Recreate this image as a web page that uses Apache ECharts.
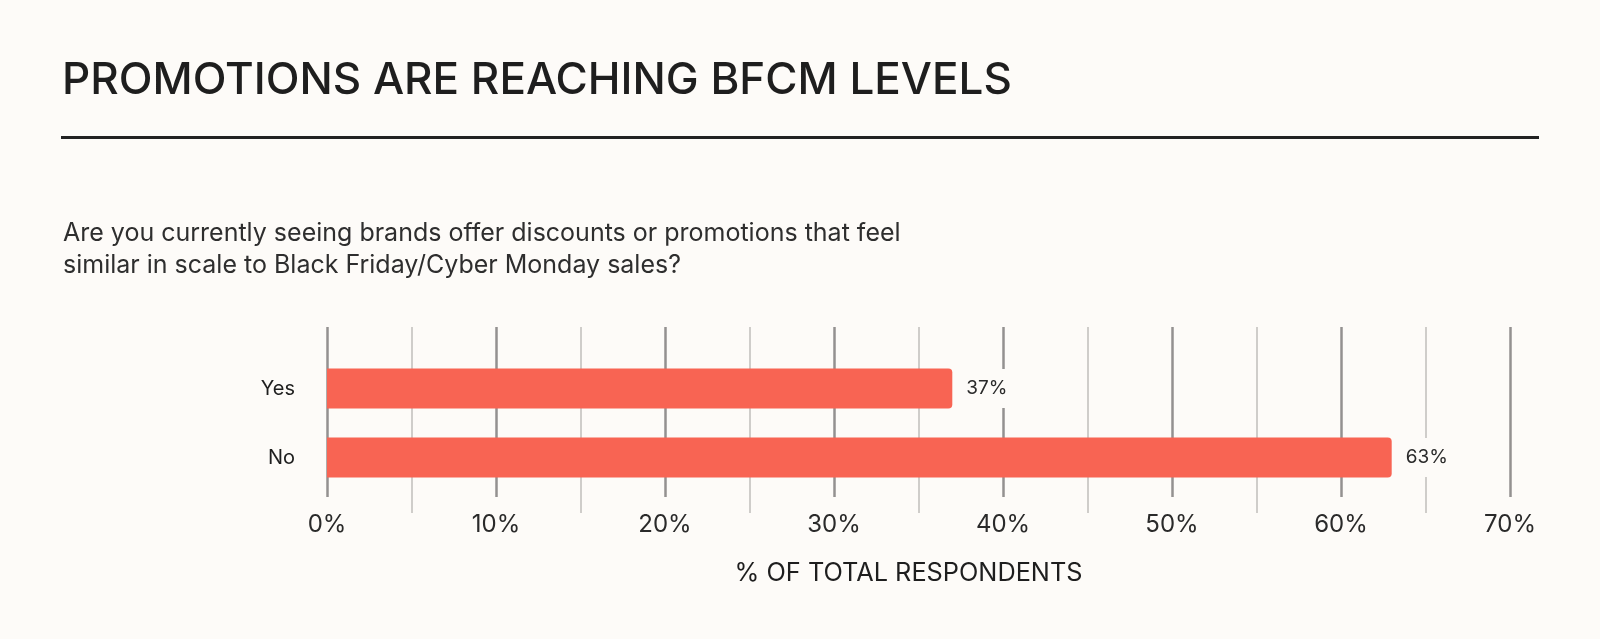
<!DOCTYPE html>
<html>
<head>
<meta charset="utf-8">
<title>Promotions are reaching BFCM levels</title>
<script src="https://cdn.jsdelivr.net/npm/echarts@6/dist/echarts.min.js"></script>
<style>
  html, body { margin: 0; padding: 0; background: #fdfbf8; }
  #chart { width: 1600px; height: 639px; }
</style>
</head>
<body>
<div id="chart"></div>
<script>
// data
const categories = ['Yes', 'No'];
const shares = [37, 63];
const tickValues = [0, 10, 20, 30, 40, 50, 60, 70];

const titleText = 'PROMOTIONS ARE REACHING BFCM LEVELS';
const questionText = 'Are you currently seeing brands offer discounts or promotions that feel\nsimilar in scale to Black Friday/Cyber Monday sales?';
const axisTitle = '% OF TOTAL RESPONDENTS';

(function () {
  const BG = '#fdfbf8';
  const FONT = 'Inter, "Noto Sans", sans-serif';
  const chart = echarts.init(document.getElementById('chart'), null, { renderer: 'canvas' });

  const opt = {
    backgroundColor: BG,
    animation: false,
    textStyle: { fontFamily: FONT },
    title: [
      {
        text: titleText,
        left: 57, top: 54,
        textStyle: { fontFamily: FONT, fontSize: 44, fontWeight: 500, color: '#1e1e1e' }
      },
      {
        text: questionText,
        left: 58, top: 212,
        textStyle: { fontFamily: FONT, fontSize: 25, fontWeight: 400, color: '#2e2e2e', lineHeight: 32 }
      }
    ],
    graphic: [
      { type: 'rect', shape: { x: 61, y: 136, width: 1478, height: 3 }, style: { fill: '#222' } }
    ],
    grid: [
      // grid 0 only carries the gridlines and tick labels
      { left: 327, right: 90, top: 327, bottom: 142 },
      // grid 1 carries the bars (narrower band)
      { left: 327, right: 90, top: 354, bottom: 147 }
    ],
    xAxis: [
      {
        gridIndex: 0, type: 'value', min: tickValues[0], max: tickValues[tickValues.length - 1], interval: 10,
        axisLine: { show: false },
        axisTick: { show: false },
        minorTick: { show: true, splitNumber: 2, length: 16, lineStyle: { color: '#cfcdca', width: 2 } },
        splitLine: { show: true, lineStyle: { color: '#939190', width: 2.5 } },
        minorSplitLine: { show: true, lineStyle: { color: '#cfcdca', width: 2 } },
        axisLabel: { margin: 16, fontSize: 24, color: '#2a2a2a', formatter: '{value}%' },
        name: axisTitle, nameLocation: 'middle', nameGap: 64,
        nameTextStyle: { fontSize: 25.3, color: '#1e1e1e', padding: [0, 20, 0, 0] }
      },
      {
        gridIndex: 1, type: 'value', min: tickValues[0], max: tickValues[tickValues.length - 1],
        show: false
      }
    ],
    yAxis: [
      { gridIndex: 0, type: 'category', data: categories, show: false },
      {
        gridIndex: 1, type: 'category', data: categories, inverse: true,
        axisLine: { show: false }, axisTick: { show: false },
        axisLabel: { margin: 32, fontSize: 20, color: '#1e1e1e' }
      }
    ],
    series: [
      {
        type: 'bar', xAxisIndex: 1, yAxisIndex: 1,
        data: shares,
        barWidth: 40,
        itemStyle: { color: '#f86453', borderRadius: [0, 4, 4, 0] },
        label: {
          show: true, position: 'right', distance: 8,
          formatter: '{c}%', fontSize: 19, color: '#2a2a2a',
          backgroundColor: BG, padding: [10, 6]
        }
      }
    ]
  };

  chart.setOption(opt);
  window.addEventListener('resize', () => chart.resize());
})();
</script>
</body>
</html>
